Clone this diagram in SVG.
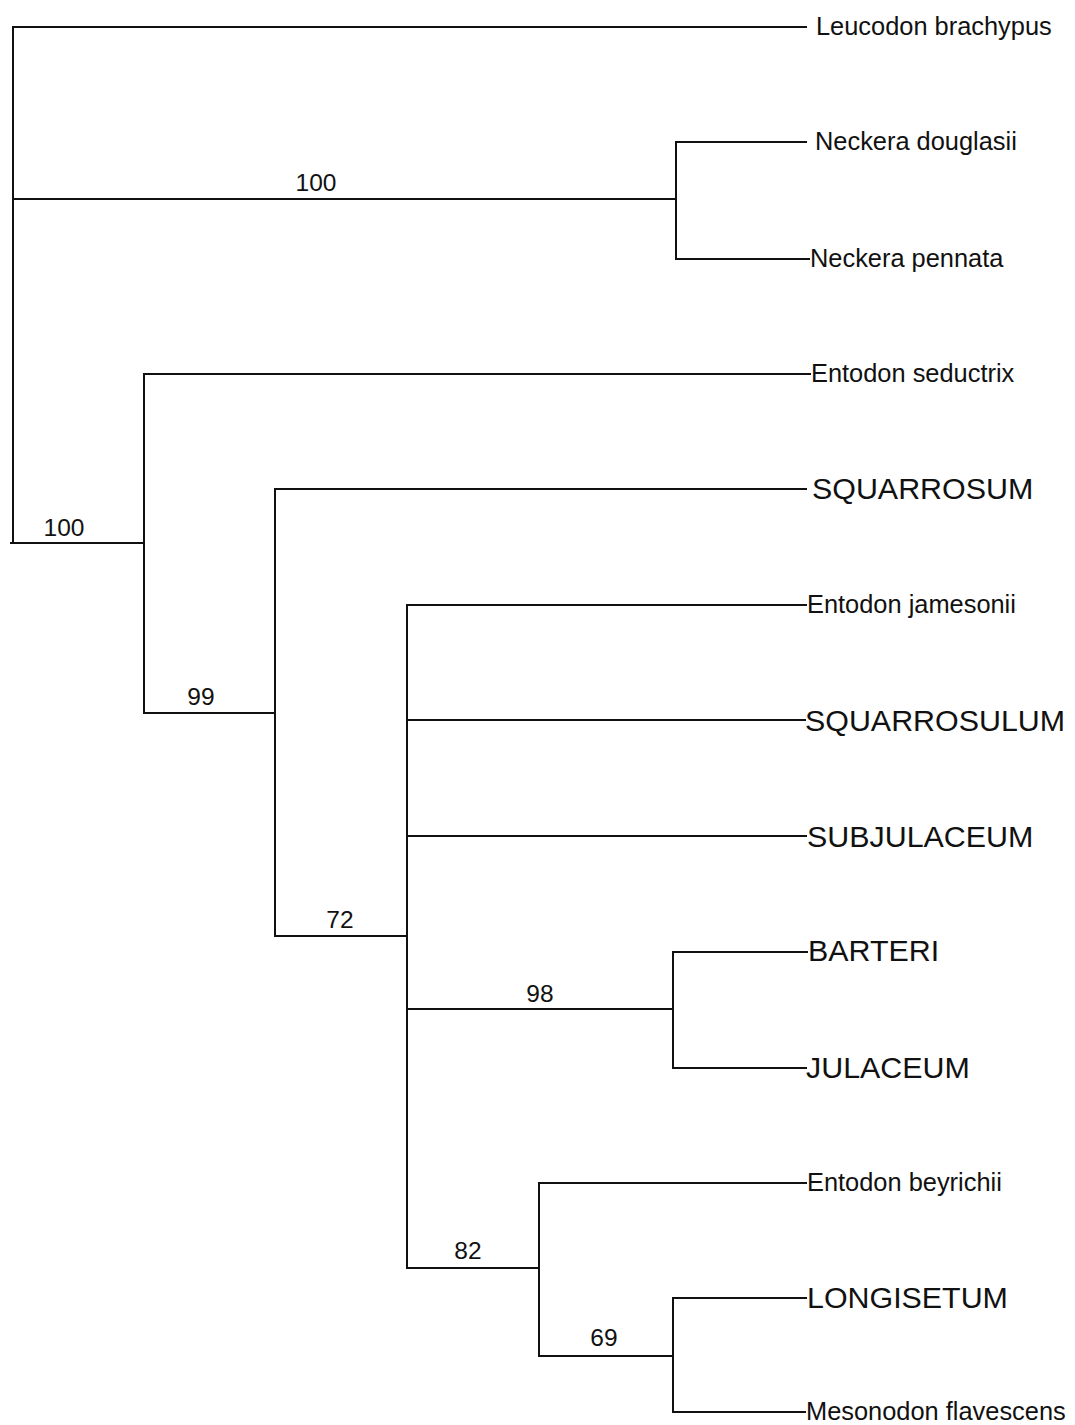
<svg xmlns="http://www.w3.org/2000/svg" width="1075" height="1425" viewBox="0 0 1075 1425">
<style>
.br{fill:none;stroke:#111;stroke-width:2;stroke-linecap:square}
.sm{font-family:"Liberation Sans",Arial,sans-serif;font-size:25.4px;fill:#111}
.bg{font-family:"Liberation Sans",Arial,sans-serif;font-size:30.4px;fill:#111}
.sv{font-family:"Liberation Sans",Arial,sans-serif;font-size:24.5px;fill:#111;text-anchor:middle}
</style>
<rect width="1075" height="1425" fill="#fff"/>
<g id="connectors">
<path class="br" d="M13 27V543M13 27H806M13 199H676M11 543H144"/>
<path class="br" d="M676 142V259M676 142H806M676 259H809"/>
<path class="br" d="M144 374V713M144 374H810M144 713H275"/>
<path class="br" d="M275 489V936M275 489H806M275 936H407"/>
<path class="br" d="M407 605V1268M407 605H806M407 720H805M407 836H806M407 1009H673M407 1268H539"/>
<path class="br" d="M673 952V1068M673 952H807M673 1068H806"/>
<path class="br" d="M539 1183V1356M539 1183H806M539 1356H673"/>
<path class="br" d="M673 1298V1412M673 1298H806M673 1412H805"/>
</g>
<g id="node-leucodon"><text class="sm" x="816" y="35">Leucodon brachypus</text></g>
<g id="node-neckera-douglasii"><text class="sm" x="815" y="150">Neckera douglasii</text></g>
<g id="node-neckera-pennata"><text class="sm" x="810" y="267">Neckera pennata</text></g>
<g id="node-entodon-seductrix"><text class="sm" x="811" y="382">Entodon seductrix</text></g>
<g id="node-squarrosum"><text class="bg" x="812" y="499">SQUARROSUM</text></g>
<g id="node-entodon-jamesonii"><text class="sm" x="807" y="613">Entodon jamesonii</text></g>
<g id="node-squarrosulum"><text class="bg" x="805" y="731">SQUARROSULUM</text></g>
<g id="node-subjulaceum"><text class="bg" x="807" y="847">SUBJULACEUM</text></g>
<g id="node-barteri"><text class="bg" x="808" y="961">BARTERI</text></g>
<g id="node-julaceum"><text class="bg" x="806" y="1078">JULACEUM</text></g>
<g id="node-entodon-beyrichii"><text class="sm" x="807" y="1191">Entodon beyrichii</text></g>
<g id="node-longisetum"><text class="bg" x="807" y="1308">LONGISETUM</text></g>
<g id="node-mesonodon"><text class="sm" x="806" y="1420">Mesonodon flavescens</text></g>
<g id="node-neckera-clade"><text class="sv" x="316" y="191">100</text></g>
<g id="node-entodontaceae"><text class="sv" x="64" y="536">100</text></g>
<g id="node-99"><text class="sv" x="201" y="705">99</text></g>
<g id="node-72"><text class="sv" x="340" y="928">72</text></g>
<g id="node-98"><text class="sv" x="540" y="1002">98</text></g>
<g id="node-82"><text class="sv" x="468" y="1259">82</text></g>
<g id="node-69"><text class="sv" x="604" y="1346">69</text></g>
</svg>
